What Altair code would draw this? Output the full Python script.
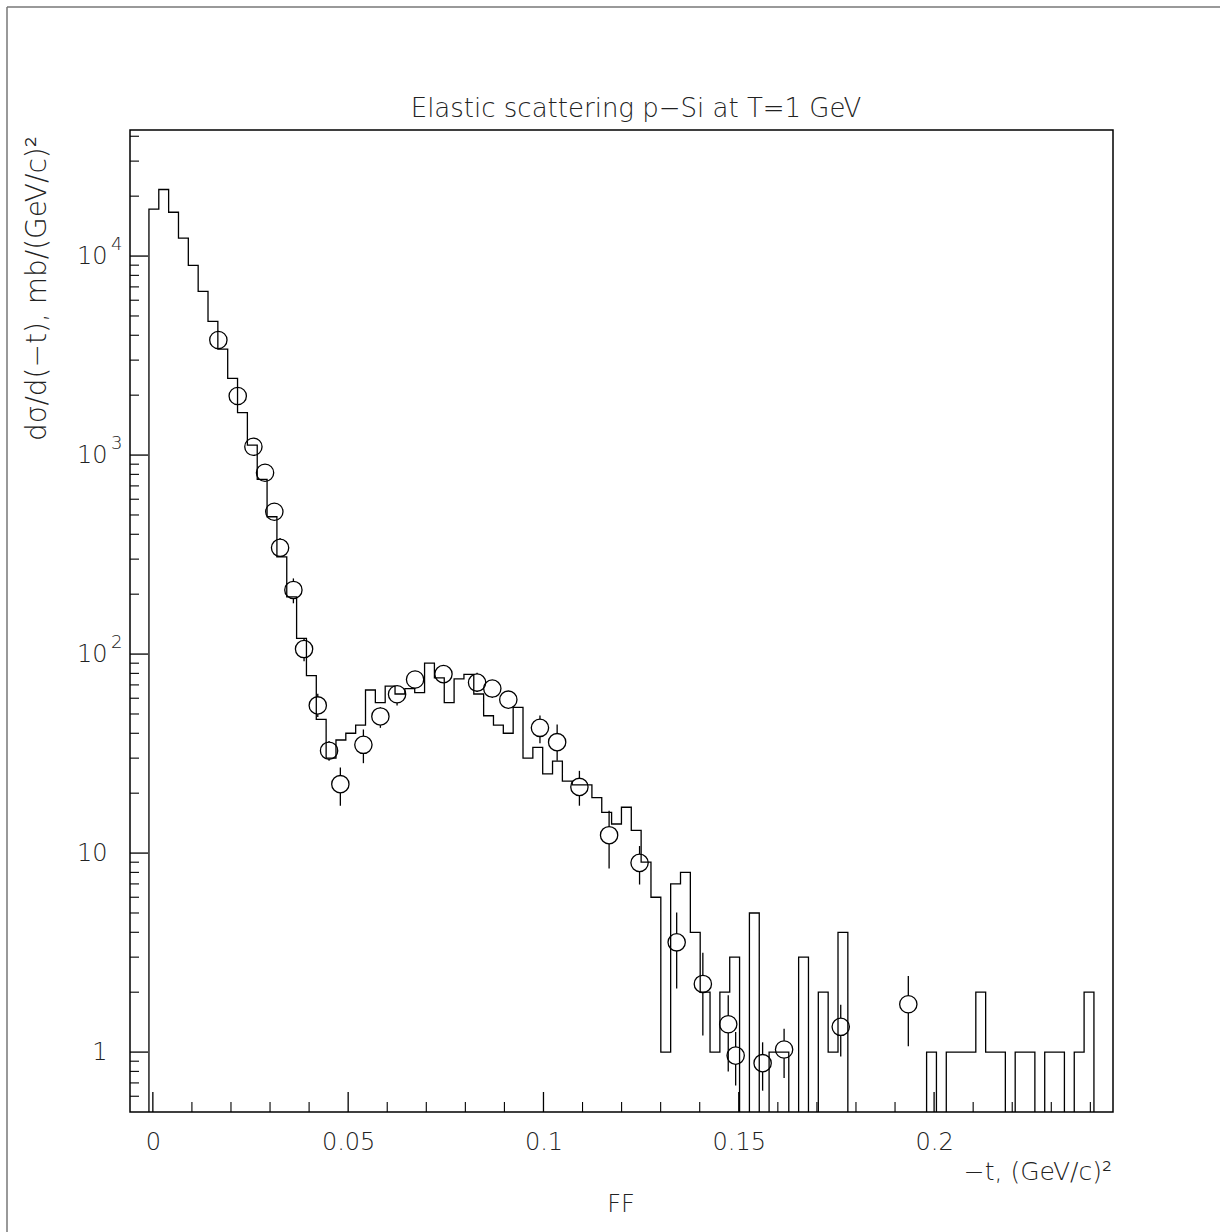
import altair as alt
import pandas as pd
import numpy as np

# ---------------- data ----------------
BIN_START = -0.001
BIN_WIDTH = 0.00252
HIST = [17200, 21600, 16600, 12300, 8980, 6650, 4700, 3410, 2430, 1633,
        1122, 755, 490, 308, 194, 120, 78, 47, 30, 37,
        40, 44, 66, 57, 69, 63, 67, 64, 90, 76,
        57, 75, 79, 63, 49, 44, 40, 54, 30, 34,
        25, 29, 23, 22, 22, 19, 16, 14, 17, 13,
        9, 6, 1, 7, 8, 4, 2, 1, 2, 3,
        0, 5, 0, 1, 1, 0, 3, 0, 2, 1,
        4, 0, 0, 0, 0, 0, 0, 0, 0, 1,
        0, 1, 1, 1, 2, 1, 1, 0, 1, 1,
        0, 1, 1, 0, 1, 2]

PT_X = [0.01677, 0.02173, 0.02574, 0.02872, 0.0311, 0.03257, 0.03598, 0.03871,
        0.04222, 0.04511, 0.048, 0.0539, 0.05825, 0.06252, 0.06713, 0.0744,
        0.083, 0.0869, 0.091, 0.0991, 0.1035, 0.1092, 0.1168, 0.1246,
        0.1341, 0.1408, 0.1473, 0.1492, 0.1561, 0.1616, 0.1761, 0.1934]
PT_Y = [3785, 1980, 1101, 815, 519, 342, 210, 106,
        55.2, 32.7, 22.2, 35.0, 48.6, 62.8, 74.5, 79.3,
        71.9, 67.1, 59.0, 42.6, 36.1, 21.5, 12.3, 8.93,
        3.56, 2.2, 1.38, 0.96, 0.88, 1.03, 1.34, 1.74]
PT_LO = [3500, 1830, 1020, 752, 475, 310, 180, 92,
         48.3, 29.1, 17.3, 28.3, 42.6, 55.2, 67.1, 72.6,
         64.5, 60.2, 53.6, 35.6, 29.1, 17.3, 8.37, 6.95,
         2.09, 1.21, 0.80, 0.68, 0.64, 0.74, 0.95, 1.07]
PT_HI = [4090, 2140, 1190, 897, 575, 383, 240, 120,
         63.2, 36.6, 26.9, 41.8, 54.2, 69.5, 82.5, 86.4,
         80.5, 73.7, 65.0, 49.2, 44.3, 25.9, 16.3, 10.85,
         5.03, 3.16, 1.93, 1.26, 1.12, 1.31, 1.73, 2.41]

X_LABELS = [0, 0.05, 0.1, 0.15, 0.2]
X_MINOR = [0.01, 0.02, 0.03, 0.04, 0.06, 0.07, 0.08, 0.09, 0.11, 0.12, 0.13,
           0.14, 0.16, 0.17, 0.18, 0.19, 0.21, 0.22, 0.23, 0.24]
Y_MAJOR = [1, 10, 100, 1000, 10000]
Y_MINOR = [0.6, 0.7, 0.8, 0.9, 2, 3, 4, 5, 6, 7, 8, 9,
           20, 30, 40, 50, 60, 70, 80, 90, 200, 300, 400, 500, 600, 700, 800, 900,
           2000, 3000, 4000, 5000, 6000, 7000, 8000, 9000, 20000, 30000, 40000]
EXP_V = [100, 1000, 10000]
EXP_T = ["2", "3", "4"]

TITLE = "Elastic scattering p\u2212Si at T=1 GeV"
Y_TITLE = "d\u03c3/d(\u2212t), mb/(GeV/c)\u00b2"
X_TITLE = "\u2212t, (GeV/c)\u00b2"
FOOT = "FF"

# ---------------- layout ----------------
W, H = 983, 982
FONT = "DejaVu Sans"
FW = 300
TXT = "#222222"
X_DOMAIN = [-0.00585, 0.2458]
Y_DOMAIN = [0.5, 43000]
FLOOR = 0.01
R_FACT = 10 ** (8.7 / 199.0)  # circle radius in log units

xs = alt.Scale(domain=X_DOMAIN, nice=False, zero=False)
ys = alt.Scale(type="log", domain=Y_DOMAIN, nice=False)

X_AX = alt.Axis(values=X_LABELS, format=".2~f", ticks=False, tickSize=0, domain=False,
                grid=False, labelPadding=18, labelFont=FONT, labelFontSize=24,
                labelFontWeight=FW, labelColor=TXT, title=None, labelFlush=False)
Y_AX = alt.Axis(values=Y_MAJOR, labelExpr="datum.value < 5 ? '1' : '10'", ticks=False,
                tickSize=0, domain=False, grid=False, labelPadding=23, labelFont=FONT,
                labelFontSize=24, labelFontWeight=FW, labelColor=TXT, title=None,
                labelFlush=False)

# histogram outline as a step line
edges = BIN_START + BIN_WIDTH * np.arange(len(HIST) + 1)
rows = [dict(x=edges[0], y=FLOOR, o=0)]
for i, v in enumerate(HIST):
    rows.append(dict(x=edges[i], y=max(v, FLOOR), o=i + 1))
rows.append(dict(x=edges[-1], y=FLOOR, o=len(HIST) + 1))
hist_df = pd.DataFrame(rows)

pts = pd.DataFrame(dict(x=PT_X, y=PT_Y, lo=PT_LO, hi=PT_HI))
up = pts[pts.hi > pts.y * R_FACT].copy()
up["a"] = up.y * R_FACT
up["b"] = up.hi
dn = pts[pts.lo < pts.y / R_FACT].copy()
dn["a"] = dn.lo
dn["b"] = dn.y / R_FACT
err_df = pd.concat([up[["x", "a", "b"]], dn[["x", "a", "b"]]])

hist = alt.Chart(hist_df).mark_line(interpolate="step-after", color="black",
                                    strokeWidth=1.3, clip=True).encode(
    x=alt.X("x:Q", scale=xs, axis=X_AX),
    y=alt.Y("y:Q", scale=ys, axis=Y_AX),
    order="o:Q")

errs = alt.Chart(err_df).mark_rule(color="black", strokeWidth=1.3, clip=True).encode(
    x=alt.X("x:Q", scale=xs, axis=X_AX),
    y=alt.Y("a:Q", scale=ys, axis=Y_AX),
    y2="b:Q")

circ = alt.Chart(pts).mark_point(shape="circle", filled=False, size=300, color="black",
                                 strokeWidth=1.3, opacity=1).encode(
    x=alt.X("x:Q", scale=xs, axis=X_AX),
    y=alt.Y("y:Q", scale=ys, axis=Y_AX))

# inward ticks
xmaj = alt.Chart(pd.DataFrame(dict(v=X_LABELS))).mark_rule(color="black", strokeWidth=1.3).encode(
    x=alt.X("v:Q", scale=xs, axis=X_AX), y=alt.value(H), y2=alt.value(H - 20))
xmin = alt.Chart(pd.DataFrame(dict(v=X_MINOR))).mark_rule(color="black", strokeWidth=1.1).encode(
    x=alt.X("v:Q", scale=xs, axis=X_AX), y=alt.value(H), y2=alt.value(H - 10))
ymaj = alt.Chart(pd.DataFrame(dict(v=Y_MAJOR))).mark_rule(color="black", strokeWidth=1.3).encode(
    y=alt.Y("v:Q", scale=ys, axis=Y_AX), x=alt.value(0), x2=alt.value(18))
ymin = alt.Chart(pd.DataFrame(dict(v=Y_MINOR))).mark_rule(color="black", strokeWidth=1.1).encode(
    y=alt.Y("v:Q", scale=ys, axis=Y_AX), x=alt.value(0), x2=alt.value(9))

exps = alt.Chart(pd.DataFrame(dict(v=EXP_V, t=EXP_T))).mark_text(
    align="left", baseline="middle", dy=-11, font=FONT, fontSize=18, fontWeight=FW,
    color=TXT).encode(
    y=alt.Y("v:Q", scale=ys, axis=Y_AX), x=alt.value(-19), text="t:N")

def label(text, x, y, size, align="center", baseline="middle", angle=0):
    kw = dict(align=align, baseline=baseline, font=FONT, fontSize=size,
              fontWeight=FW, color=TXT, text=text)
    if angle:
        kw["angle"] = angle
    return alt.Chart(pd.DataFrame({"d": [0]})).mark_text(**kw).encode(
        x=alt.value(x), y=alt.value(y))

title = label(TITLE, 506, -13, 26, baseline="alphabetic")
ytitle = label(Y_TITLE, -92, 6, 28, align="right", angle=270)
xtitle = label(X_TITLE, 982, 1042, 25, align="right")
foot = label(FOOT, 491, 1075, 24)

# outer page border (left and top)
border_l = alt.Chart(pd.DataFrame({"d": [0]})).mark_rule(color="#777777", strokeWidth=1.5).encode(
    x=alt.value(-123), y=alt.value(-123), y2=alt.value(H + 120))
border_t = alt.Chart(pd.DataFrame({"d": [0]})).mark_rule(color="#777777", strokeWidth=1.5).encode(
    y=alt.value(-123), x=alt.value(-123), x2=alt.value(W + 107))

chart = alt.layer(
    hist, errs, circ, xmaj, xmin, ymaj, ymin, exps,
    title, ytitle, xtitle, foot, border_l, border_t
).properties(
    width=W, height=H,
    autosize=alt.AutoSizeParams(type="none"),
    padding={"left": 130, "top": 130, "right": 107, "bottom": 120},
    background="white",
).configure_view(stroke="black", strokeWidth=1.5)

chart.save("out.html", embed_options={"renderer": "svg", "actions": False})
